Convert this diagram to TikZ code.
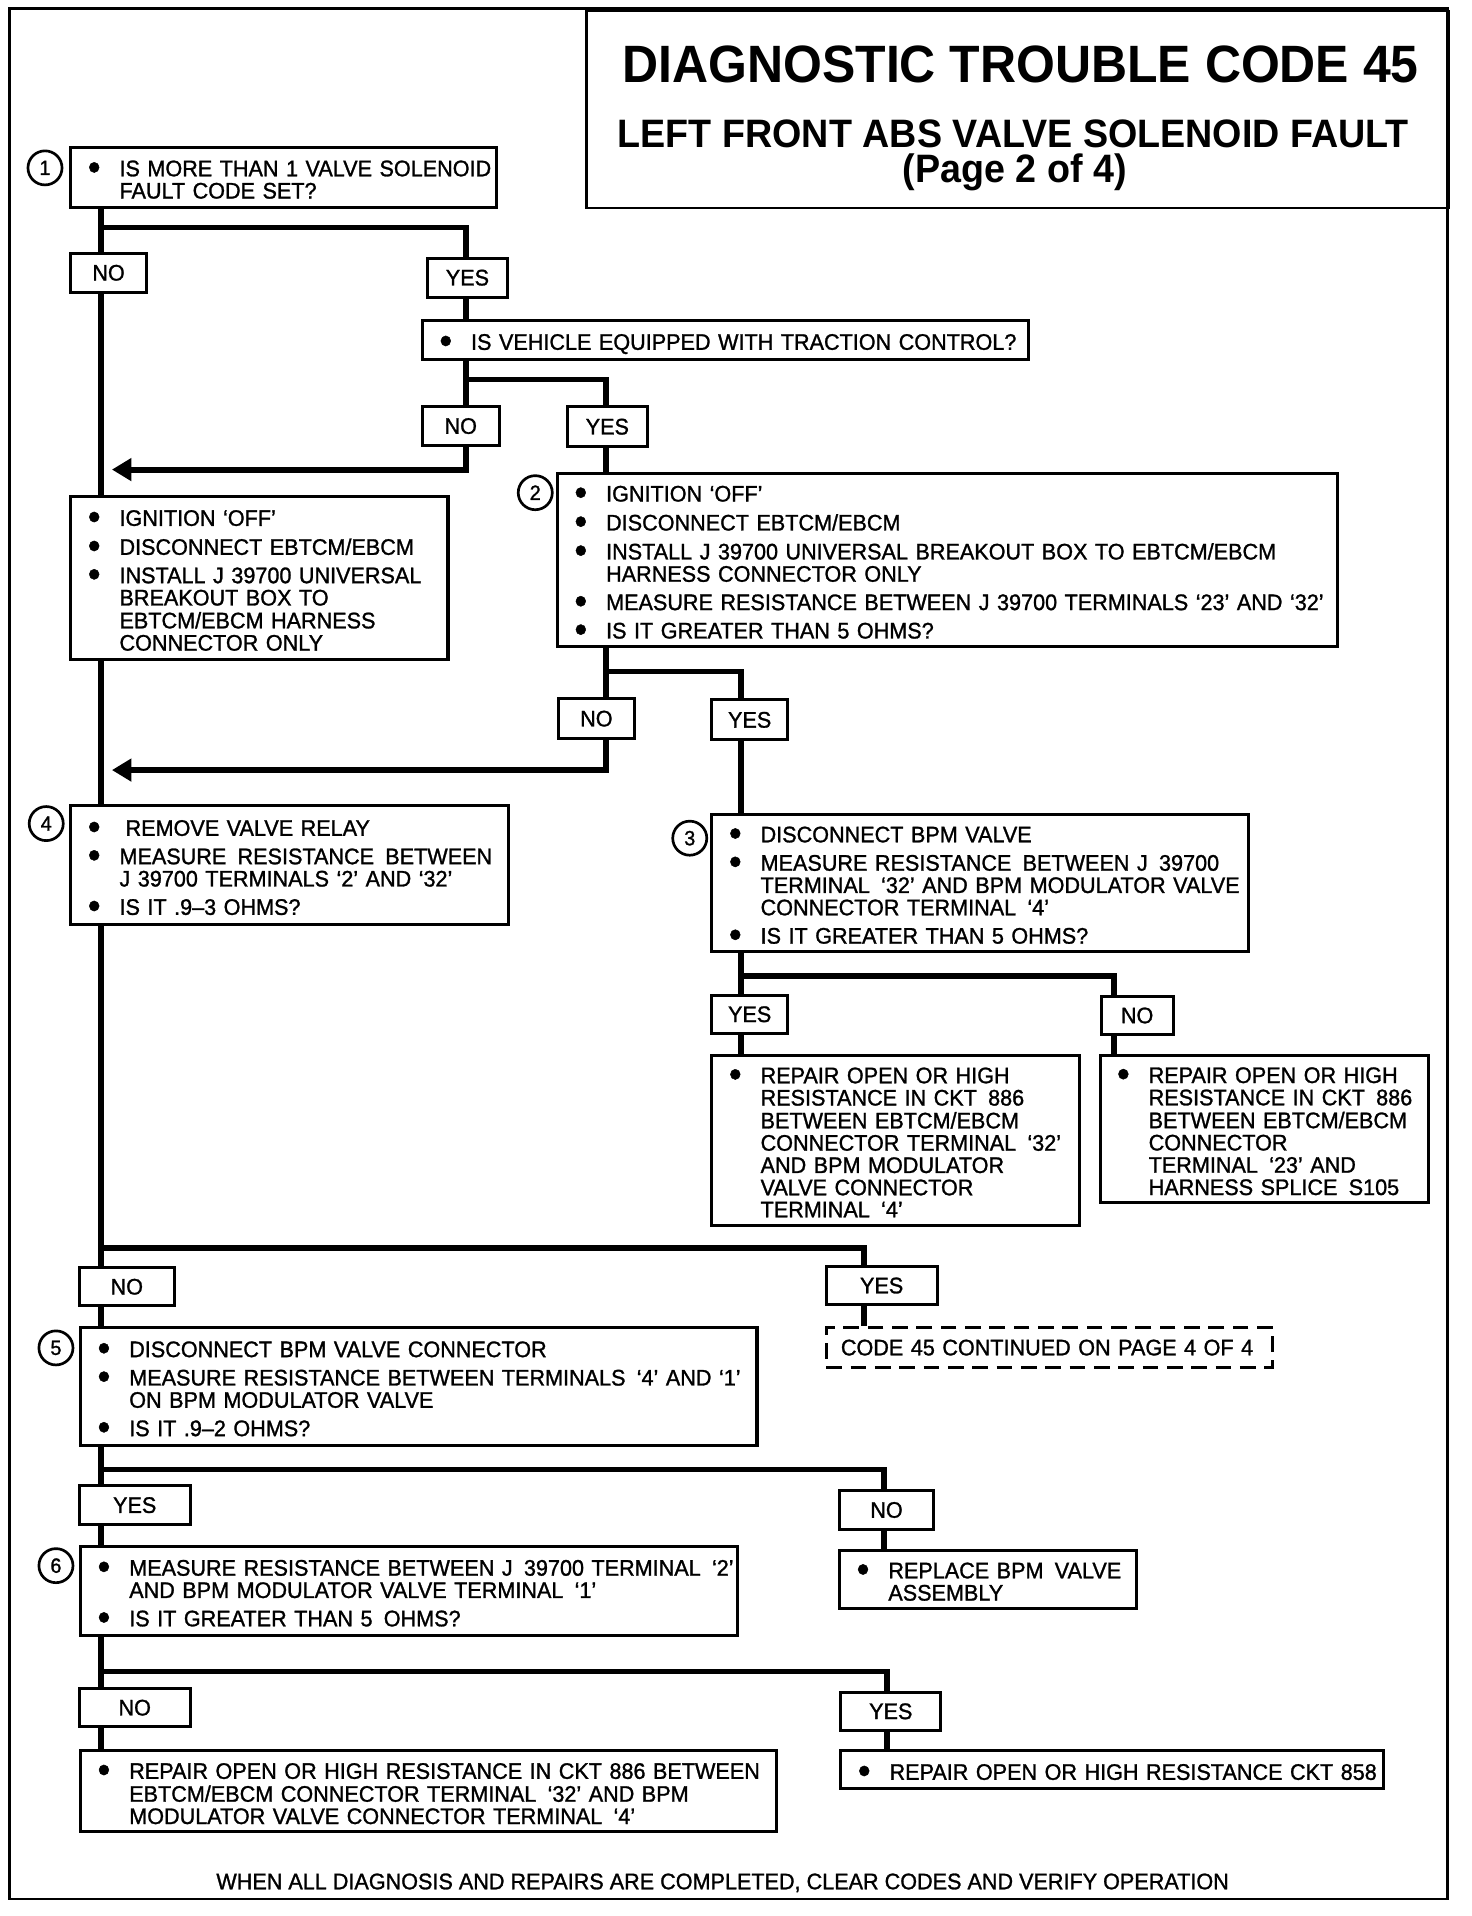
\documentclass[tikz,border=0pt]{standalone}
\usepackage{fontspec}
\setmainfont{Liberation Sans}
\newfontfamily\bodyfam{Liberation Sans}[FakeStretch=0.96, FakeBold=1.2]
\newfontfamily\titlefam{Liberation Sans Bold}[FakeStretch=0.95]
\usetikzlibrary{arrows.meta}
\newcommand{\bodyfnt}{\bodyfam\fontsize{18.5}{18}\selectfont}
\newcommand{\numfnt}{\bodyfam\fontsize{17}{17}\selectfont}
\newcommand{\itm}[1]{\par\noindent\makebox[26pt][l]{\raisebox{-3pt}{\fontsize{31}{18}\selectfont\textbullet}}\begin{tabular}[t]{@{}l@{}}#1\end{tabular}}
\tikzset{
  conn/.style={line width=4.8pt},
  boxs/.style={draw, line width=2.5pt, fill=white, anchor=north west, inner xsep=14pt, inner ysep=1pt, align=left, font=\bodyfnt,
    execute at begin node={\setlength{\parskip}{4pt}\setlength{\parindent}{0pt}\setlength{\tabcolsep}{0pt}\hfuzz=200pt\hbadness=10000}},
  lbl/.style={draw, line width=2.5pt, fill=white, anchor=north west, inner sep=0pt, font=\bodyfnt},
  num/.style={draw, circle, line width=2.2pt, minimum size=28pt, inner sep=0pt, font=\numfnt},
  tarrow/.style={-{Triangle[length=16pt,width=18pt]}},
}
\begin{document}
\begin{tikzpicture}[x=1pt,y=-1pt]
\useasboundingbox (0,0) rectangle (1210,1575);
% frame
\draw[line width=2.2pt] (8,7) rectangle (1190,1561);
\node[draw, line width=2.2pt, anchor=north west, minimum width=709pt, minimum height=162pt, inner sep=0pt] (title) at (481,8) {};
\node[font=\fontsize{43.2}{41}\selectfont\titlefam, anchor=base] (t1) at (839,68) {DIAGNOSTIC TROUBLE CODE 45};
\node[font=\fontsize{32.6}{31}\selectfont\titlefam, anchor=base] (t2) at (833,121) {LEFT FRONT ABS VALVE SOLENOID FAULT};
\node[font=\fontsize{32.6}{31}\selectfont\titlefam, anchor=base] (t3) at (834,150) {(Page 2 of 4)};

% coordinates
\coordinate (tr) at (83,0);
\coordinate (cx1) at (383,0);
\coordinate (cx2) at (498,0);
\coordinate (cx3) at (609,0);
\coordinate (cx4) at (916,0);
\coordinate (cx5) at (710,0);
\coordinate (cx6) at (727,0);
\coordinate (cx7) at (729,0);
\coordinate (j1) at (83,187);
\coordinate (j2) at (383,312);
\coordinate (j3) at (498,552);
\coordinate (j4) at (609,802);
\coordinate (j5) at (83,1026);
\coordinate (j6) at (83,1208);
\coordinate (j7) at (83,1374);
\coordinate (a1) at (92,386);
\coordinate (a2) at (92,633);

% boxes
\node[boxs, minimum width=350pt, minimum height=49pt, text width=322pt] (b1) at (57,120)
 {\itm{IS MORE THAN 1 VALVE SOLENOID\\FAULT CODE SET?}};
\node[lbl, minimum width=62pt, minimum height=32pt] (n1) at (57,207) {NO};
\node[lbl, minimum width=66pt, minimum height=32pt] (y1) at (350,211) {YES};
\node[boxs, minimum width=498pt, minimum height=32pt, text width=470pt] (tc) at (346,262)
 {\itm{IS VEHICLE EQUIPPED WITH TRACTION CONTROL?}};
\node[lbl, minimum width=63pt, minimum height=32pt] (n2) at (346,333) {NO};
\node[lbl, minimum width=66pt, minimum height=33pt] (y2) at (465,333) {YES};
\node[boxs, minimum width=310pt, minimum height=134pt, text width=282pt] (L1) at (57,407)
 {\itm{IGNITION ‘OFF’}
  \itm{DISCONNECT EBTCM/EBCM}
  \itm{INSTALL J 39700 UNIVERSAL\\BREAKOUT BOX TO\\EBTCM/EBCM HARNESS\\CONNECTOR ONLY}};
\node[boxs, minimum width=641pt, minimum height=142pt, text width=613pt] (b2) at (457,388)
 {\itm{IGNITION ‘OFF’}
  \itm{DISCONNECT EBTCM/EBCM}
  \itm{INSTALL J 39700 UNIVERSAL BREAKOUT BOX TO EBTCM/EBCM\\HARNESS CONNECTOR ONLY}
  \itm{MEASURE RESISTANCE BETWEEN J 39700 TERMINALS ‘23’ AND ‘32’}
  \itm{IS IT GREATER THAN 5 OHMS?}};
\node[lbl, minimum width=62pt, minimum height=33pt] (n3) at (458,573) {NO};
\node[lbl, minimum width=62pt, minimum height=33pt] (y3) at (584,574) {YES};
\node[boxs, minimum width=360pt, minimum height=98pt, text width=332pt] (b4) at (57,661)
 {\itm{\hspace{5pt}REMOVE VALVE RELAY}
  \itm{MEASURE\, RESISTANCE\, BETWEEN\\J 39700 TERMINALS ‘2’ AND ‘32’}
  \itm{IS IT .9–3 OHMS?}};
\node[boxs, minimum width=441pt, minimum height=113pt, text width=413pt] (b3) at (584,668)
 {\itm{DISCONNECT BPM VALVE}
  \itm{MEASURE RESISTANCE\, BETWEEN J\, 39700\\TERMINAL\, ‘32’ AND BPM MODULATOR VALVE\\CONNECTOR TERMINAL\, ‘4’}
  \itm{IS IT GREATER THAN 5 OHMS?}};
\node[lbl, minimum width=62pt, minimum height=31pt] (y4) at (584,817) {YES};
\node[lbl, minimum width=59pt, minimum height=31pt] (n4) at (904,818) {NO};
\node[boxs, minimum width=302pt, minimum height=140pt, text width=274pt] (b3a) at (584,866)
 {\itm{REPAIR OPEN OR HIGH\\RESISTANCE IN CKT\, 886\\BETWEEN EBTCM/EBCM\\CONNECTOR TERMINAL\, ‘32’\\AND BPM MODULATOR\\VALVE CONNECTOR\\TERMINAL\, ‘4’}};
\node[boxs, minimum width=270pt, minimum height=121pt, text width=242pt] (b3b) at (903,866)
 {\itm{REPAIR OPEN OR HIGH\\RESISTANCE IN CKT\, 886\\BETWEEN EBTCM/EBCM\\CONNECTOR\\TERMINAL\, ‘23’ AND\\HARNESS SPLICE\, S105}};
\node[lbl, minimum width=78pt, minimum height=31pt] (n5) at (64,1041) {NO};
\node[lbl, minimum width=91pt, minimum height=31pt] (y5) at (678,1040) {YES};
\node[boxs, minimum width=556pt, minimum height=97pt, text width=528pt] (b5) at (65,1090)
 {\itm{DISCONNECT BPM VALVE CONNECTOR}
  \itm{MEASURE RESISTANCE BETWEEN TERMINALS\, ‘4’ AND ‘1’\\ON BPM MODULATOR VALVE}
  \itm{IS IT .9–2 OHMS?}};
\node[draw, line width=2.5pt, dash pattern=on 13pt off 7pt, fill=white, anchor=north west, inner xsep=12pt, inner ysep=0pt, minimum width=367pt, minimum height=33pt, text width=343pt, align=left, font=\bodyfnt] (cont) at (678,1090)
 {CODE 45 CONTINUED ON PAGE 4 OF 4};
\node[lbl, minimum width=91pt, minimum height=32pt] (y6) at (64,1220) {YES};
\node[lbl, minimum width=77pt, minimum height=32pt] (n6) at (689,1224) {NO};
\node[boxs, minimum width=540pt, minimum height=73pt, text width=512pt] (b6) at (65,1270)
 {\itm{MEASURE RESISTANCE BETWEEN J\, 39700 TERMINAL\, ‘2’\\AND BPM MODULATOR VALVE TERMINAL\, ‘1’}
  \itm{IS IT GREATER THAN 5\, OHMS?}};
\node[boxs, minimum width=244pt, minimum height=48pt, text width=216pt] (rep) at (689,1273)
 {\itm{REPLACE BPM\, VALVE\\ASSEMBLY}};
\node[lbl, minimum width=91pt, minimum height=31pt] (n7) at (64,1387) {NO};
\node[lbl, minimum width=82pt, minimum height=31pt] (y7) at (690,1390) {YES};
\node[boxs, minimum width=572pt, minimum height=66pt, text width=544pt] (b7) at (65,1438)
 {\itm{REPAIR OPEN OR HIGH RESISTANCE IN CKT 886 BETWEEN\\EBTCM/EBCM CONNECTOR TERMINAL\, ‘32’ AND BPM\\MODULATOR VALVE CONNECTOR TERMINAL\, ‘4’}};
\node[boxs, minimum width=446pt, minimum height=31pt, text width=418pt] (b8) at (690,1438)
 {\itm{REPAIR OPEN OR HIGH RESISTANCE CKT 858}};

% step numbers
\node[num] (c1) at (37,138) {1};
\node[num] (c2) at (440,405) {2};
\node[num] (c3) at (567,689) {3};
\node[num] (c4) at (38,677) {4};
\node[num] (c5) at (46,1108) {5};
\node[num] (c6) at (46,1287) {6};

% footer
\node[font=\bodyfnt, anchor=base] (ft) at (594,1553) {WHEN ALL DIAGNOSIS AND REPAIRS ARE COMPLETED, CLEAR CODES AND VERIFY OPERATION};

% connectors
\draw[conn] (b1.south -| tr) -- (n1.north -| tr);
\draw[conn] (j1) -| (y1.north -| cx1);
\draw[conn] (y1.south -| cx1) -- (tc.north -| cx1);
\draw[conn] (n1.south -| tr) -- (L1.north -| tr);
\draw[conn] (tc.south -| cx1) -- (n2.north -| cx1);
\draw[conn] (j2) -| (y2.north -| cx2);
\draw[conn] (y2.south -| cx2) -- (b2.north -| cx2);
\draw[conn, tarrow] (n2.south -| cx1) |- (a1);
\draw[conn] (b2.south -| cx2) -- (n3.north -| cx2);
\draw[conn] (j3) -| (y3.north -| cx3);
\draw[conn] (y3.south -| cx3) -- (b3.north -| cx3);
\draw[conn, tarrow] (n3.south -| cx2) |- (a2);
\draw[conn] (L1.south -| tr) -- (b4.north -| tr);
\draw[conn] (b3.south -| cx3) -- (y4.north -| cx3);
\draw[conn] (j4) -| (n4.north -| cx4);
\draw[conn] (y4.south -| cx3) -- (b3a.north -| cx3);
\draw[conn] (n4.south -| cx4) -- (b3b.north -| cx4);
\draw[conn] (b4.south -| tr) -- (n5.north -| tr);
\draw[conn] (j5) -| (y5.north -| cx5);
\draw[conn] (y5.south -| cx5) -- (cont.north -| cx5);
\draw[conn] (n5.south -| tr) -- (b5.north -| tr);
\draw[conn] (b5.south -| tr) -- (y6.north -| tr);
\draw[conn] (j6) -| (n6.north -| cx6);
\draw[conn] (n6.south -| cx6) -- (rep.north -| cx6);
\draw[conn] (y6.south -| tr) -- (b6.north -| tr);
\draw[conn] (b6.south -| tr) -- (n7.north -| tr);
\draw[conn] (j7) -| (y7.north -| cx7);
\draw[conn] (n7.south -| tr) -- (b7.north -| tr);
\draw[conn] (y7.south -| cx7) -- (b8.north -| cx7);
\end{tikzpicture}
\end{document}
